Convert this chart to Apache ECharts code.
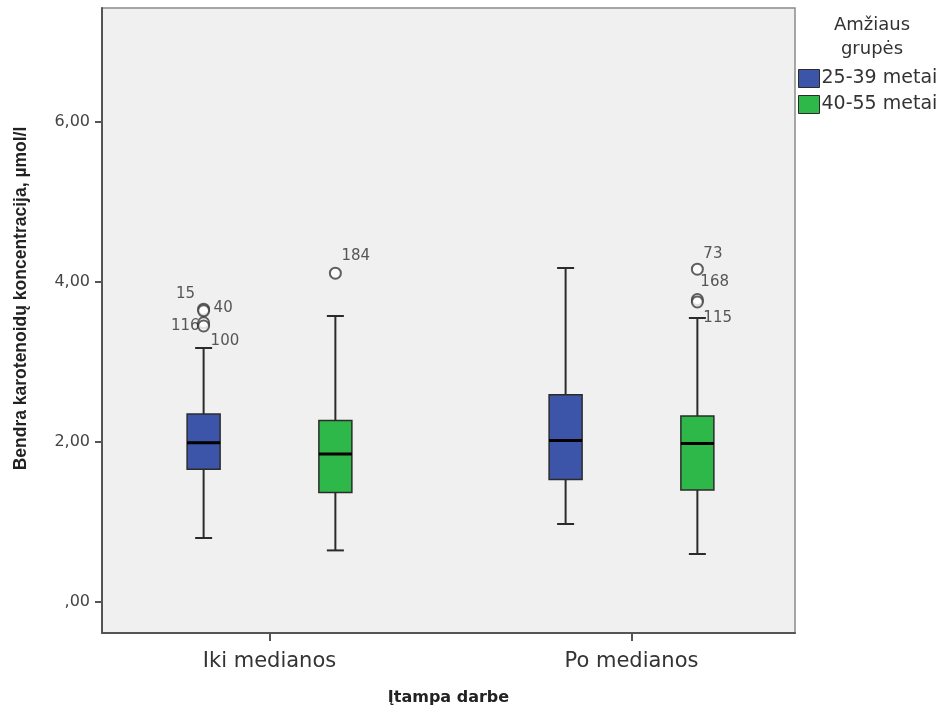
<!DOCTYPE html>
<html>
<head>
<meta charset="utf-8">
<title>Bendra karotenoidų koncentracija</title>
<script src="https://cdn.jsdelivr.net/npm/echarts@6/dist/echarts.min.js"></script>
<style>
  html, body { margin: 0; padding: 0; background: #ffffff; }
  #chart { width: 946px; height: 715px; }
</style>
</head>
<body>
<div id="chart"></div>
<script>
// Work-stress groups on the x axis and age groups as series
const categories = ['Iki medianos', 'Po medianos'];
const groupNames = ['25-39 metai', '40-55 metai'];

// Five-number summaries per category: [lower whisker, Q1, median, Q3, upper whisker]
const box2539 = [
  [0.80, 1.66, 1.99, 2.35, 3.175],
  [0.975, 1.53, 2.02, 2.59, 4.175]
];
const box4055 = [
  [0.645, 1.37, 1.85, 2.27, 3.575],
  [0.60, 1.40, 1.98, 2.325, 3.55]
];

// Outliers: [category index, value, case number]
const out2539 = [
  [0, 3.66, '15'],
  [0, 3.64, '40'],
  [0, 3.49, '116'],
  [0, 3.45, '100']
];
const out4055 = [
  [0, 4.11, '184'],
  [1, 4.16, '73'],
  [1, 3.78, '168'],
  [1, 3.75, '115']
];

// Y axis tick values
const yTicks = [0, 2, 4, 6];

// Case-number label placement next to each outlier circle
const labelPlacement = {
  '15':  { offset: [-18, -15], align: 'center' },
  '40':  { offset: [10, -3],   align: 'left' },
  '116': { offset: [-4, 3],    align: 'right' },
  '100': { offset: [7, 15],    align: 'left' },
  '184': { offset: [6, -17],   align: 'left' },
  '73':  { offset: [6, -15],   align: 'left' },
  '168': { offset: [3, -17],   align: 'left' },
  '115': { offset: [6, 16],    align: 'left' }
};

const colors = ['#3c55a8', '#2fb84a'];
const groupOffset = [-0.182, 0.182];   // side-by-side shift inside a category
const BOX_HALF = 16.5;                 // half box width, px
const CAP_HALF = 8.5;                  // half whisker cap width, px
const SANS = '"Liberation Sans", Arial, sans-serif';
const WIDE = '"DejaVu Sans", Verdana, sans-serif';

function boxRenderer(offset) {
  return function (params, api) {
    const x = api.value(0) + offset;
    const pMin = api.coord([x, api.value(1)]);
    const pQ1 = api.coord([x, api.value(2)]);
    const pMed = api.coord([x, api.value(3)]);
    const pQ3 = api.coord([x, api.value(4)]);
    const pMax = api.coord([x, api.value(5)]);
    const cx = pMed[0];
    const fill = api.visual('color');
    const whisker = { stroke: '#2b2b2b', lineWidth: 2 };
    return {
      type: 'group',
      children: [
        { type: 'line', shape: { x1: cx, y1: pQ3[1], x2: cx, y2: pMax[1] }, style: whisker },
        { type: 'line', shape: { x1: cx, y1: pQ1[1], x2: cx, y2: pMin[1] }, style: whisker },
        { type: 'line', shape: { x1: cx - CAP_HALF, y1: pMax[1], x2: cx + CAP_HALF, y2: pMax[1] }, style: whisker },
        { type: 'line', shape: { x1: cx - CAP_HALF, y1: pMin[1], x2: cx + CAP_HALF, y2: pMin[1] }, style: whisker },
        {
          type: 'rect',
          shape: { x: cx - BOX_HALF, y: pQ3[1], width: BOX_HALF * 2, height: pQ1[1] - pQ3[1] },
          style: { fill: fill, stroke: '#2b2b2b', lineWidth: 1.5 }
        },
        {
          type: 'line',
          shape: { x1: cx - BOX_HALF, y1: pMed[1], x2: cx + BOX_HALF, y2: pMed[1] },
          style: { stroke: '#000000', lineWidth: 3 }
        }
      ]
    };
  };
}

function outlierData(list, offset) {
  return list.map(function (o) {
    const place = labelPlacement[o[2]];
    return {
      value: [o[0] + offset, o[1], o[2]],
      label: { offset: place.offset, align: place.align }
    };
  });
}

function outlierSeries(list, offset) {
  return {
    type: 'scatter',
    data: outlierData(list, offset),
    symbol: 'emptyCircle',
    symbolSize: 11,
    itemStyle: { color: '#3a3a3a', borderColor: '#3a3a3a', borderWidth: 2 },
    label: {
      show: true,
      position: 'inside',
      verticalAlign: 'middle',
      formatter: function (p) { return p.value[2]; },
      color: '#2e2e2e',
      fontFamily: WIDE,
      fontSize: 15
    },
    emphasis: { disabled: true },
    silent: true,
    z: 5
  };
}

const chart = echarts.init(document.getElementById('chart'), null, { renderer: 'canvas' });

chart.setOption({
  animation: false,
  backgroundColor: '#ffffff',
  title: {
    text: 'Amžiaus\ngrupės',
    left: 867,
    top: 8,
    textAlign: 'center',
    textStyle: { fontFamily: WIDE, fontSize: 18, fontWeight: 'normal', color: '#333333', lineHeight: 24 }
  },
  legend: {
    orient: 'vertical',
    left: 798,
    top: 69,
    padding: 0,
    itemGap: 7,
    itemWidth: 21,
    itemHeight: 18,
    icon: 'rect',
    selectedMode: false,
    textStyle: { fontFamily: WIDE, fontSize: 19, color: '#333333', padding: [0, 0, 0, -3] },
    data: groupNames.map(function (n, i) {
      return { name: n, itemStyle: { color: colors[i], borderColor: '#2b2b2b', borderWidth: 1 } };
    })
  },
  grid: {
    left: 102,
    right: 151,
    top: 8,
    bottom: 82,
    show: true,
    backgroundColor: '#f0f0f0',
    borderColor: '#8a8a8a',
    borderWidth: 1.5
  },
  xAxis: {
    type: 'value',
    min: -0.4627,
    max: 1.4517,
    name: 'Įtampa darbe',
    nameLocation: 'middle',
    nameGap: 57,
    nameTextStyle: { fontFamily: WIDE, fontSize: 16, fontWeight: 'bold', color: '#222222' },
    axisLine: { show: true, onZero: false, lineStyle: { color: '#555555', width: 2 } },
    axisTick: { show: true, customValues: [0, 1], length: 8, lineStyle: { color: '#555555', width: 2 } },
    axisLabel: {
      customValues: [0, 1],
      formatter: function (v) { return categories[Math.round(v)]; },
      margin: 18,
      fontFamily: WIDE,
      fontSize: 21,
      color: '#333333'
    },
    splitLine: { show: false }
  },
  yAxis: {
    type: 'value',
    min: -0.3875,
    max: 7.425,
    name: 'Bendra karotenoidų koncentracija, µmol/l',
    nameLocation: 'middle',
    nameGap: 72,
    nameTextStyle: {
      fontFamily: SANS,
      fontSize: 17.5,
      fontWeight: 'bold',
      color: '#222222',
      padding: [0, 0, 0, 44]
    },
    axisLine: { show: true, onZero: false, lineStyle: { color: '#555555', width: 2 } },
    axisTick: { show: true, customValues: yTicks, length: 7, lineStyle: { color: '#555555', width: 2 } },
    axisLabel: {
      customValues: yTicks,
      formatter: function (v) { return v.toFixed(2).replace('.', ',').replace(/^0,/, ','); },
      margin: 12,
      fontFamily: WIDE,
      fontSize: 16,
      color: '#444444'
    },
    splitLine: { show: false }
  },
  series: [
    {
      name: groupNames[0],
      type: 'custom',
      renderItem: boxRenderer(groupOffset[0]),
      itemStyle: { color: colors[0] },
      encode: { x: 0, y: [1, 2, 3, 4, 5] },
      data: box2539.map(function (b, i) { return [i].concat(b); }),
      silent: true,
      z: 2
    },
    {
      name: groupNames[1],
      type: 'custom',
      renderItem: boxRenderer(groupOffset[1]),
      itemStyle: { color: colors[1] },
      encode: { x: 0, y: [1, 2, 3, 4, 5] },
      data: box4055.map(function (b, i) { return [i].concat(b); }),
      silent: true,
      z: 2
    },
    outlierSeries(out2539, groupOffset[0]),
    outlierSeries(out4055, groupOffset[1])
  ]
});
</script>
</body>
</html>
